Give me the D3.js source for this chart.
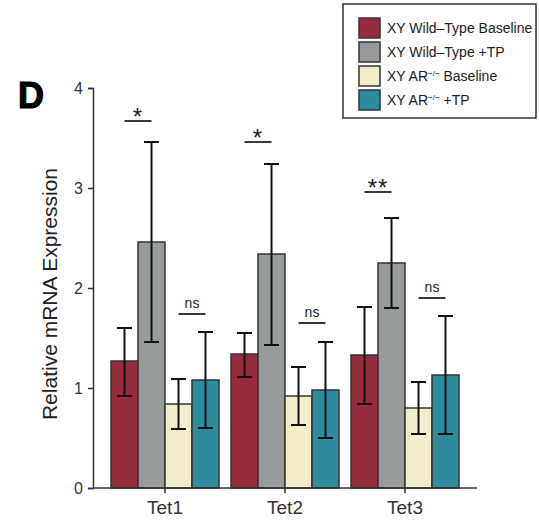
<!DOCTYPE html>
<html>
<head>
<meta charset="utf-8">
<script src="https://cdn.jsdelivr.net/npm/d3@7"></script>
<style>
  body { margin: 0; background: #fff; }
  svg { display: block; font-family: "Liberation Sans", Arial, Helvetica, sans-serif; }
</style>
</head>
<body>
<div id="chart"></div>
<script>
// data
const categories = ["Tet1", "Tet2", "Tet3"];
const seriesNames = ["XY Wild\u2013Type Baseline", "XY Wild\u2013Type +TP", "XY AR", "XY AR"];
const seriesSuffix = ["", "", " Baseline", " +TP"];
const seriesColors = ["#962c3e", "#979b9c", "#f3edc9", "#2e8b9e"];

const wtBaseline = [1.27, 1.34, 1.33];
const wtTP = [2.46, 2.34, 2.25];
const arBaseline = [0.84, 0.92, 0.80];
const arTP = [1.08, 0.98, 1.13];

const wtBaselineErr = [[0.92, 1.60], [1.11, 1.55], [0.84, 1.81]];
const wtTPErr = [[1.46, 3.46], [1.43, 3.24], [1.80, 2.70]];
const arBaselineErr = [[0.59, 1.09], [0.63, 1.21], [0.54, 1.06]];
const arTPErr = [[0.60, 1.56], [0.50, 1.46], [0.54, 1.72]];

// significance: first compares series 0/1, second compares series 2/3
const sigLabels = [["*", "ns"], ["*", "ns"], ["**", "ns"]];
const sigLevels = [[3.67, 1.74], [3.46, 1.65], [2.96, 1.90]];

const yTicks = [0, 1, 2, 3, 4];

const W = 539, H = 522;
const svg = d3.select("#chart").append("svg").attr("width", W).attr("height", H);

const values = [wtBaseline, wtTP, arBaseline, arTP];
const errs = [wtBaselineErr, wtTPErr, arBaselineErr, arTPErr];

const data = [];
categories.forEach((c, i) => {
  values.forEach((s, j) => {
    data.push({ cat: c, s: j, v: s[i], lo: errs[j][i][0], hi: errs[j][i][1] });
  });
});

const y = d3.scaleLinear().domain([0, 4]).range([488, 88]);
const x = d3.scaleBand().domain(categories).range([105, 465]).paddingInner(0.1).paddingOuter(0.05);
const xs = d3.scaleBand().domain(d3.range(4)).range([0, x.bandwidth()]);

// bars
svg.append("g").selectAll("rect")
  .data(data)
  .enter().append("rect")
    .attr("x", d => x(d.cat) + xs(d.s))
    .attr("y", d => y(d.v))
    .attr("width", xs.bandwidth())
    .attr("height", d => y(0) - y(d.v))
    .attr("fill", d => seriesColors[d.s])
    .attr("stroke", "#333")
    .attr("stroke-width", 1.5);

// error bars
const eb = svg.append("g").attr("stroke", "#111").attr("stroke-width", 2).attr("fill", "none");
data.forEach(d => {
  const cx = x(d.cat) + xs(d.s) + xs.bandwidth() / 2;
  eb.append("line").attr("x1", cx).attr("x2", cx).attr("y1", y(d.lo)).attr("y2", y(d.hi));
  eb.append("line").attr("x1", cx - 7.5).attr("x2", cx + 7.5).attr("y1", y(d.hi)).attr("y2", y(d.hi));
  eb.append("line").attr("x1", cx - 7.5).attr("x2", cx + 7.5).attr("y1", y(d.lo)).attr("y2", y(d.lo));
});

// significance markers
categories.forEach((c, i) => {
  [[0, 1], [2, 3]].forEach((pair, k) => {
    const x1 = x(c) + xs(pair[0]) + xs.bandwidth() / 2;
    const x2 = x(c) + xs(pair[1]) + xs.bandwidth() / 2;
    const yy = y(sigLevels[i][k]);
    svg.append("line")
      .attr("x1", x1).attr("x2", x2).attr("y1", yy).attr("y2", yy)
      .attr("stroke", "#222").attr("stroke-width", 1.8);
    const lab = sigLabels[i][k];
    const isStar = lab !== "ns";
    svg.append("text")
      .attr("x", (x1 + x2) / 2)
      .attr("y", isStar ? yy + 4 : yy - 6)
      .attr("text-anchor", "middle")
      .attr("fill", "#222")
      .style("font-size", isStar ? "24px" : "14px")
      .style("letter-spacing", isStar ? "1px" : null)
      .text(lab);
  });
});

// y axis
const yAxis = svg.append("g")
  .attr("transform", "translate(93,0)")
  .call(d3.axisLeft(y).tickValues(yTicks).tickFormat(d3.format("d")).tickSizeOuter(0).tickSize(5));
yAxis.select(".domain").attr("stroke", "#333").attr("stroke-width", 1.5);
yAxis.selectAll(".tick line").attr("stroke", "#333").attr("stroke-width", 1.5);
yAxis.selectAll(".tick text").attr("fill", "#333").style("font-size", "16px")
  .style("font-family", "'Liberation Sans', Arial, sans-serif").attr("x", -10);

// x axis
const xAxis = svg.append("g")
  .attr("transform", `translate(0,${y(0)})`)
  .call(d3.axisBottom(x).tickSize(5).tickSizeOuter(0));
xAxis.select(".domain").remove();
xAxis.selectAll(".tick line").attr("stroke", "#333").attr("stroke-width", 1.5);
xAxis.selectAll(".tick text").attr("fill", "#333").style("font-size", "19px")
  .style("font-family", "'Liberation Sans', Arial, sans-serif").attr("y", 9).attr("dy", "0.9em");
svg.append("line")
  .attr("x1", 93).attr("x2", 477).attr("y1", y(0)).attr("y2", y(0))
  .attr("stroke", "#333").attr("stroke-width", 1.5);

// y title
svg.append("text")
  .attr("transform", `translate(57,${(y(0) + y(4)) / 2 + 6}) rotate(-90)`)
  .attr("text-anchor", "middle")
  .attr("fill", "#222")
  .style("font-size", "21px")
  .text("Relative mRNA Expression");

// panel letter
svg.append("text")
  .attr("x", 18).attr("y", 108)
  .style("font-size", "36px").style("font-weight", "bold")
  .attr("fill", "#000").attr("stroke", "#000").attr("stroke-width", 1.2)
  .text("D");

// legend
const lg = svg.append("g").attr("transform", "translate(343,4)");
lg.append("rect")
  .attr("x", 0).attr("y", 0).attr("width", 193).attr("height", 114)
  .attr("fill", "#fff").attr("stroke", "#333").attr("stroke-width", 1.5);
const items = lg.selectAll(".li").data(seriesNames).enter().append("g")
  .attr("transform", (d, i) => `translate(16,${14 + i * 24})`);
items.append("rect")
  .attr("width", 21).attr("height", 20)
  .attr("fill", (d, i) => seriesColors[i])
  .attr("stroke", "#333").attr("stroke-width", 1.5);
const lt = items.append("text")
  .attr("x", 28).attr("y", 15)
  .attr("fill", "#222")
  .style("font-size", "14px");
lt.append("tspan").text(d => d);
lt.filter((d, i) => i >= 2).append("tspan")
  .attr("dy", -5).style("font-size", "8px").text("\u2212/\u2212");
lt.filter((d, i) => i >= 2).append("tspan")
  .attr("dy", 5).text((d, i) => seriesSuffix[i + 2]);
</script>
</body>
</html>
